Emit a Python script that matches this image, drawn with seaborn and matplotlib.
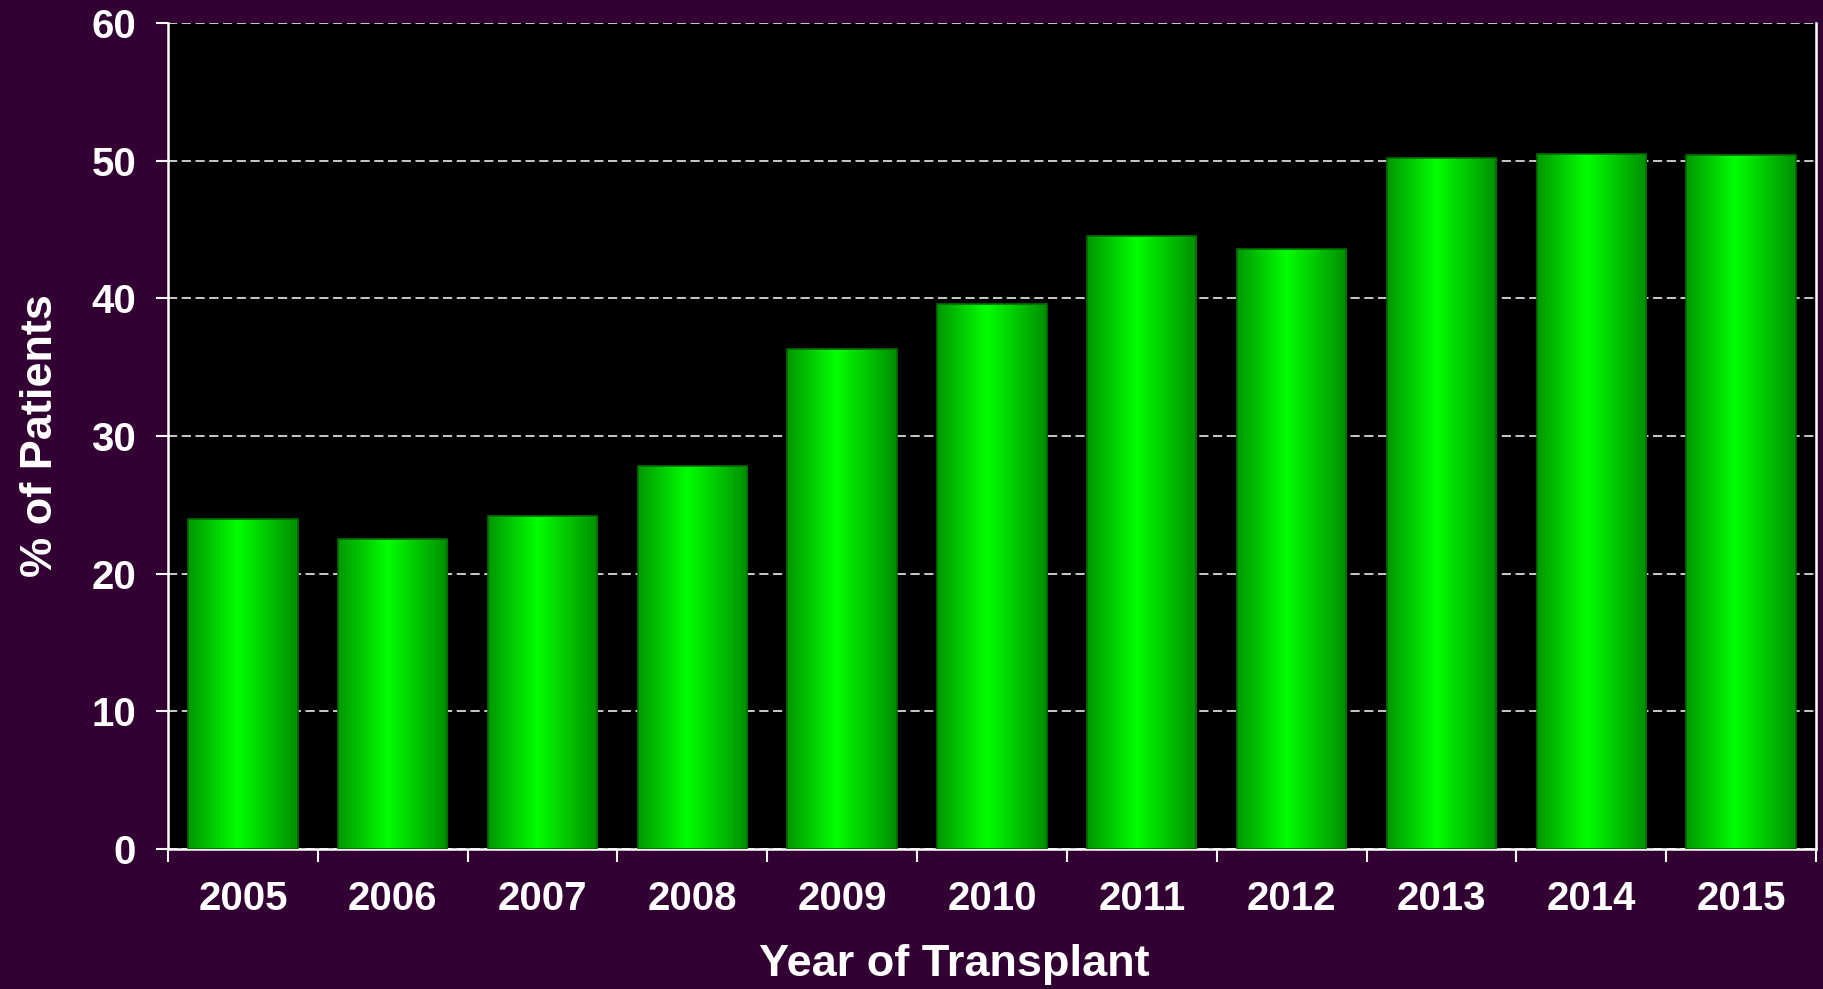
import numpy as np
import pandas as pd
import matplotlib
matplotlib.use("Agg")
import matplotlib.pyplot as plt
from matplotlib.colors import LinearSegmentedColormap
from matplotlib.ticker import FixedLocator, NullFormatter
import seaborn as sns

# Share of patients by year of transplant
years = ["2005", "2006", "2007", "2008", "2009", "2010",
         "2011", "2012", "2013", "2014", "2015"]
pct_patients = [24.0, 22.5, 24.2, 27.8, 36.3, 39.6, 44.5, 43.6, 50.2, 50.5, 50.4]
y_ticks = [0, 10, 20, 30, 40, 50, 60]

df = pd.DataFrame({"year": years, "pct": pct_patients})

sns.set_theme(style="white")
plt.rcParams["font.family"] = ["Liberation Sans", "DejaVu Sans"]
plt.rcParams["font.weight"] = "bold"

BG = "#330033"
fig = plt.figure(figsize=(18.24, 9.89), dpi=100, facecolor=BG)
ax = fig.add_axes([0.0921, 0.1416, 0.9035, 0.8351])
ax.set_facecolor("black")

sns.barplot(data=df, x="year", y="pct", order=years, color="#00cc00",
            width=0.73, edgecolor="#006a00", linewidth=1.2, ax=ax, zorder=3)

# Horizontal green gradient inside each bar
grad_cmap = LinearSegmentedColormap.from_list(
    "bar_green", [(0.0, "#009800"), (0.45, "#00ff00"), (1.0, "#008e00")])
grad = np.linspace(0, 1, 256).reshape(1, -1)
for patch in ax.patches:
    x0, y0 = patch.get_x(), patch.get_y()
    w, h = patch.get_width(), patch.get_height()
    im = ax.imshow(grad, cmap=grad_cmap, aspect="auto",
                   extent=[x0, x0 + w, y0, y0 + h], origin="lower",
                   zorder=2.9, interpolation="bilinear")
    im.set_clip_path(patch)
    patch.set_facecolor("none")

ax.set_xlim(-0.5, len(years) - 0.5)
ax.set_ylim(0, 60)

# Grid
ax.set_axisbelow(True)
ax.set_yticks(y_ticks)
ax.yaxis.grid(True, color="white", linestyle=(0, (6, 3)), linewidth=1.1)
ax.xaxis.grid(False)

# Ticks: x ticks at category boundaries
ax.xaxis.set_minor_locator(FixedLocator(np.arange(-0.5, len(years), 1.0)))
ax.xaxis.set_minor_formatter(NullFormatter())
ax.tick_params(axis="x", which="major", length=0, pad=22,
               labelsize=29, labelcolor="white")
ax.tick_params(axis="x", which="minor", bottom=True, length=9, width=1.5,
               color="white", direction="out")
ax.tick_params(axis="y", which="major", left=True, length=9, width=1.5,
               color="white", direction="out", pad=14,
               labelsize=29, labelcolor="white")
for lab in ax.get_xticklabels() + ax.get_yticklabels():
    lab.set_fontweight("bold")

for side in ["left", "bottom", "right"]:
    ax.spines[side].set_visible(True)
    ax.spines[side].set_color("white")
    ax.spines[side].set_linewidth(1.8)
ax.spines["top"].set_visible(False)

ax.set_xlabel("Year of Transplant", color="white", fontsize=32.5,
              fontweight="bold", labelpad=19)
ax.xaxis.label.set_x(0.477)
ax.set_ylabel("% of Patients", color="white", fontsize=32.5,
              fontweight="bold", labelpad=22)

fig.savefig("out.png", dpi=100, facecolor=BG)
